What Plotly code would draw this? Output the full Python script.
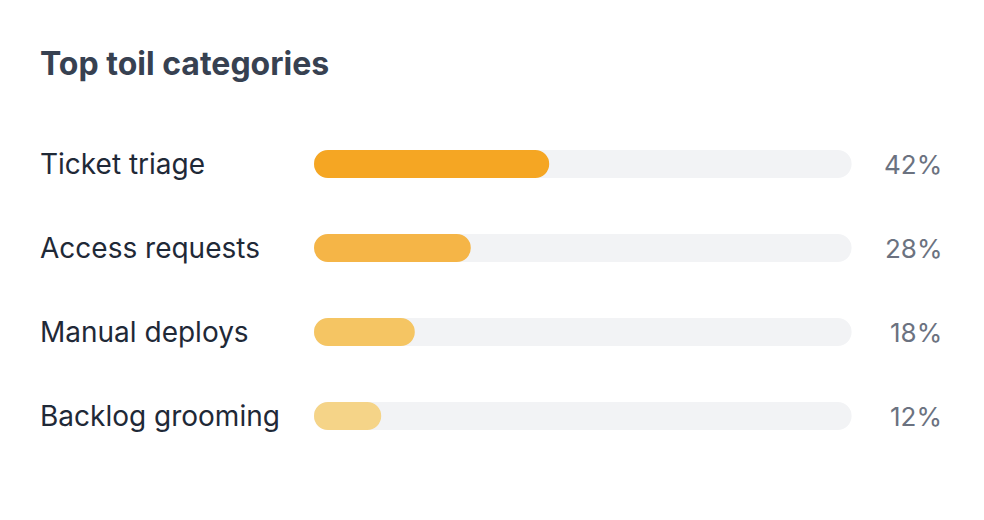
import plotly.graph_objects as go

categories = ["Ticket triage", "Access requests", "Manual deploys", "Backlog grooming"]
values = [42, 28, 18, 12]
bar_colors = ["#F5A623", "#F5B547", "#F5C563", "#F5D488"]
track_max = 96
title_text = "Top toil categories"

W, H = 984, 520
L, R, T, B = 306, 118, 114, 70
pw = W - L - R
ph = H - T - B
bw = 28 / 84

fig = go.Figure()
fig.add_trace(go.Bar(
    y=categories, x=[track_max] * len(categories), base=[0] * len(categories),
    orientation="h", width=bw,
    marker=dict(color="#F2F3F5", cornerradius=14, line=dict(width=0)),
    hoverinfo="skip", showlegend=False,
))
fig.add_trace(go.Bar(
    y=categories, x=values, base=[0] * len(categories),
    orientation="h", width=bw,
    marker=dict(color=bar_colors, cornerradius=14, line=dict(width=0)),
    showlegend=False,
))

annotations = []
for c, v in zip(categories, values):
    annotations.append(dict(
        xref="paper", yref="y", x=(30 - L) / pw, y=c, text=c,
        xanchor="left", yanchor="middle", showarrow=False,
        font=dict(family="Inter", size=28, color="#1F2937"),
    ))
    annotations.append(dict(
        xref="paper", yref="y", x=(936 - L) / pw, y=c, text=f"{v}%",
        xanchor="right", yanchor="middle", showarrow=False,
        font=dict(family="Inter", size=26, color="#6B7280"),
    ))
annotations.append(dict(
    xref="paper", yref="paper", x=(30 - L) / pw, y=(H - B - 56) / ph,
    text=f"<b>{title_text}</b>", xanchor="left", yanchor="middle",
    showarrow=False, font=dict(family="Inter", size=32, color="#374151"),
))

fig.update_layout(
    width=W, height=H, margin=dict(l=L, r=R, t=T, b=B),
    paper_bgcolor="white", plot_bgcolor="white",
    barmode="overlay",
    xaxis=dict(range=[0, 100], visible=False, fixedrange=True),
    yaxis=dict(categoryorder="array", categoryarray=categories, autorange="reversed",
               visible=False, fixedrange=True),
    annotations=annotations,
    font=dict(family="Inter"),
)

fig.write_html("out.html", config={"displayModeBar": False})
